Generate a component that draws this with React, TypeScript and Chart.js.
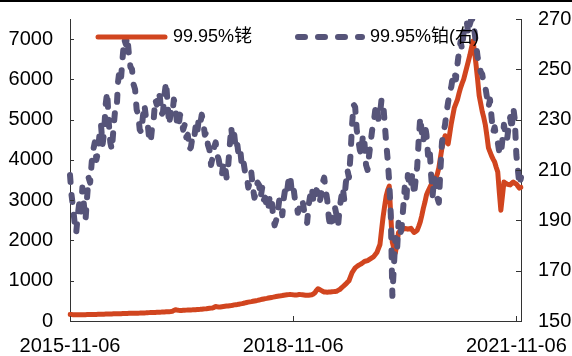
import React, { useEffect, useRef } from 'react';
import { Chart, registerables } from 'chart.js';

Chart.register(...registerables);

// Weekly-ish sampling dates (category axis)
const dates: string[] = [
  '2015-11-06','2015-11-13','2015-11-21','2015-11-28','2015-12-06','2015-12-13','2015-12-21','2015-12-28',
  '2016-01-06','2016-01-13','2016-01-21','2016-01-28','2016-02-06','2016-02-13','2016-02-21','2016-02-28',
  '2016-03-06','2016-03-13','2016-03-21','2016-03-28','2016-04-06','2016-04-13','2016-04-21','2016-04-28',
  '2016-05-06','2016-05-13','2016-05-21','2016-05-28','2016-06-06','2016-06-13','2016-06-21','2016-06-28',
  '2016-07-06','2016-07-13','2016-07-21','2016-07-28','2016-08-06','2016-08-13','2016-08-21','2016-08-28',
  '2016-09-06','2016-09-13','2016-09-21','2016-09-28','2016-10-06','2016-10-13','2016-10-21','2016-10-28',
  '2016-11-06','2016-11-13','2016-11-21','2016-11-28','2016-12-06','2016-12-13','2016-12-21','2016-12-28',
  '2017-01-06','2017-01-13','2017-01-21','2017-01-28','2017-02-06','2017-02-13','2017-02-21','2017-02-28',
  '2017-03-06','2017-03-13','2017-03-21','2017-03-28','2017-04-06','2017-04-13','2017-04-21','2017-04-28',
  '2017-05-06','2017-05-13','2017-05-21','2017-05-28','2017-06-06','2017-06-13','2017-06-21','2017-06-28',
  '2017-07-06','2017-07-13','2017-07-21','2017-07-28','2017-08-06','2017-08-13','2017-08-21','2017-08-28',
  '2017-09-06','2017-09-13','2017-09-21','2017-09-28','2017-10-06','2017-10-13','2017-10-21','2017-10-28',
  '2017-11-06','2017-11-13','2017-11-21','2017-11-28','2017-12-06','2017-12-13','2017-12-21','2017-12-28',
  '2018-01-06','2018-01-13','2018-01-21','2018-01-28','2018-02-06','2018-02-13','2018-02-21','2018-02-28',
  '2018-03-06','2018-03-13','2018-03-21','2018-03-28','2018-04-06','2018-04-13','2018-04-21','2018-04-28',
  '2018-05-06','2018-05-13','2018-05-21','2018-05-28','2018-06-06','2018-06-13','2018-06-21','2018-06-28',
  '2018-07-06','2018-07-13','2018-07-21','2018-07-28','2018-08-06','2018-08-13','2018-08-21','2018-08-28',
  '2018-09-06','2018-09-13','2018-09-21','2018-09-28','2018-10-06','2018-10-13','2018-10-21','2018-10-28',
  '2018-11-06','2018-11-13','2018-11-21','2018-11-28','2018-12-06','2018-12-13','2018-12-21','2018-12-28',
  '2019-01-06','2019-01-13','2019-01-21','2019-01-28','2019-02-06','2019-02-13','2019-02-21','2019-02-28',
  '2019-03-06','2019-03-13','2019-03-21','2019-03-28','2019-04-06','2019-04-13','2019-04-21','2019-04-28',
  '2019-05-06','2019-05-13','2019-05-21','2019-05-28','2019-06-06','2019-06-13','2019-06-21','2019-06-28',
  '2019-07-06','2019-07-13','2019-07-21','2019-07-28','2019-08-06','2019-08-13','2019-08-21','2019-08-28',
  '2019-09-06','2019-09-13','2019-09-21','2019-09-28','2019-10-06','2019-10-13','2019-10-21','2019-10-28',
  '2019-11-06','2019-11-13','2019-11-21','2019-11-28','2019-12-06','2019-12-13','2019-12-21','2019-12-28',
  '2020-01-06','2020-01-13','2020-01-21','2020-01-28','2020-02-06','2020-02-13','2020-02-21','2020-02-28',
  '2020-03-06','2020-03-13','2020-03-21','2020-03-28','2020-04-06','2020-04-13','2020-04-21','2020-04-28',
  '2020-05-06','2020-05-13','2020-05-21','2020-05-28','2020-06-06','2020-06-13','2020-06-21','2020-06-28',
  '2020-07-06','2020-07-13','2020-07-21','2020-07-28','2020-08-06','2020-08-13','2020-08-21','2020-08-28',
  '2020-09-06','2020-09-13','2020-09-21','2020-09-28','2020-10-06','2020-10-13','2020-10-21','2020-10-28',
  '2020-11-06','2020-11-13','2020-11-21','2020-11-28','2020-12-06','2020-12-13','2020-12-21','2020-12-28',
  '2021-01-06','2021-01-13','2021-01-21','2021-01-28','2021-02-06','2021-02-13','2021-02-21','2021-02-28',
  '2021-03-06','2021-03-13','2021-03-21','2021-03-28','2021-04-06','2021-04-13','2021-04-21','2021-04-28',
  '2021-05-06','2021-05-13','2021-05-21','2021-05-28','2021-06-06','2021-06-13','2021-06-21','2021-06-28',
  '2021-07-06','2021-07-13','2021-07-21','2021-07-28','2021-08-06','2021-08-13','2021-08-21','2021-08-28',
  '2021-09-06','2021-09-13','2021-09-21','2021-09-28','2021-10-06','2021-10-13','2021-10-21','2021-10-28',
  '2021-11-06','2021-11-13','2021-11-21','2021-11-28',
];

// 99.95% rhodium (left axis)
const rhodium: number[] = [
  160,159,158,156,155,155,156,157,157,157,158,159,160,161,162,162,163,164,165,166,
  168,169,170,171,172,173,175,176,178,179,180,181,182,183,185,186,188,189,190,190,
  190,191,192,193,195,196,198,199,200,202,205,208,210,211,212,213,215,217,220,222,
  225,226,228,230,232,235,240,262,280,272,265,263,262,265,268,270,272,273,275,277,
  280,282,285,287,290,294,298,301,305,310,315,320,325,340,360,352,345,350,355,360,
  365,370,375,380,385,392,400,405,410,418,425,432,440,450,460,468,475,482,490,498,
  505,512,520,530,540,548,555,562,570,578,585,592,600,608,615,620,625,632,640,645,
  650,655,660,655,650,648,645,652,660,655,650,645,640,640,640,645,650,670,700,760,
  800,780,760,740,720,718,715,718,720,725,730,735,740,760,780,815,850,885,920,960,
  1000,1100,1200,1260,1320,1350,1380,1400,1420,1450,1480,1490,1500,1525,1550,1575,1600,1650,1700,1800,
  1900,2250,2580,2850,3100,3250,3350,2600,1950,1800,1700,1950,2200,2230,2250,2280,2300,2290,2280,2290,
  2300,2250,2200,2220,2250,2350,2460,2620,2800,2950,3130,3220,3300,3380,3450,3500,3550,3650,3800,4050,
  4300,4450,4600,4500,4400,4650,4900,5100,5300,5400,5500,5650,5790,5900,6000,6150,6300,6450,6600,6780,
  6950,6700,6360,6000,5600,5400,5200,5050,4870,4600,4300,4200,4100,4020,3950,3820,3700,3200,2750,3100,
  3450,3420,3400,3390,3380,3420,3450,3420,3400,3350,3300,3320,
];

// 99.95% platinum (right axis)
const platinum: number[] = [
  208,200,195,189,185,192,197,193,203,196,190,199,207,205,213,218,221,214,217,224,
  228,220,225,236,241,229,221,218,226,233,233,245,250,247,255,262,260,263,256,251,
  250,244,242,234,232,226,225,231,236,231,229,223,221,227,230,238,236,241,239,232,
  233,240,245,236,228,233,232,238,235,229,227,232,230,226,228,223,224,218,219,223,
  222,227,224,230,228,232,229,224,225,220,218,212,215,219,221,216,214,210,208,213,
  212,207,211,219,227,221,224,218,220,215,217,211,213,209,208,203,205,209,203,199,
  201,205,204,199,203,198,199,194,195,200,199,192,188,190,193,198,197,192,199,203,
  201,206,208,202,204,199,197,193,195,198,198,194,192,189,196,200,203,198,197,202,
  201,197,200,205,207,202,198,191,187,191,190,195,192,188,195,199,203,198,205,210,
  207,216,228,236,235,226,222,218,216,224,221,212,210,216,221,226,229,234,236,230,
  232,238,237,229,221,214,205,192,160,172,183,178,189,184,187,195,203,198,208,203,
  204,209,200,206,211,222,231,225,221,228,224,216,219,208,200,207,205,199,197,210,
  221,225,228,233,237,241,243,247,249,246,252,257,261,258,265,268,269,264,268,270,
  270,265,260,255,252,249,248,244,243,239,235,238,231,225,227,223,221,217,216,222,
  228,224,222,227,231,226,235,230,216,210,204,207,
];

const xTickLabels: string[] = ['2015-11-06', '2018-11-06', '2021-11-06'];
const leftTicks: number[] = [0, 1000, 2000, 3000, 4000, 5000, 6000, 7000];
const rightTicks: number[] = [150, 170, 190, 210, 230, 250, 270];
const seriesNames: string[] = ['99.95%铑', '99.95%铂(右)'];

const RED = '#D1451F';
const BLUE = '#565479';
const AXIS = '#333333';
const FONT = '"Liberation Sans", Arial, "Noto Sans CJK SC", sans-serif';

const decorPlugin = {
  id: 'decor',
  afterDraw(chart: any) {
    const ctx = chart.ctx as CanvasRenderingContext2D;
    const { left, right, top, bottom } = chart.chartArea;
    const yl = chart.scales.y;
    const yr = chart.scales.y1;
    const xs = chart.scales.x;
    ctx.save();
    ctx.strokeStyle = AXIS;
    ctx.lineWidth = 1;
    ctx.beginPath();
    yl.ticks.forEach((t: any) => {
      const py = Math.round(yl.getPixelForValue(t.value)) + 0.5;
      ctx.moveTo(left, py);
      ctx.lineTo(left + 4, py);
    });
    yr.ticks.forEach((t: any) => {
      const py = Math.round(yr.getPixelForValue(t.value)) + 0.5;
      ctx.moveTo(right, py);
      ctx.lineTo(right - 5, py);
    });
    xs.ticks.forEach((_t: any, i: number) => {
      const px = Math.round(xs.getPixelForTick(i)) + 0.5;
      ctx.moveTo(px, bottom);
      ctx.lineTo(px, bottom - 5);
    });
    ctx.stroke();

    // legend
    const ly = top + 18;
    ctx.lineCap = 'round';
    ctx.strokeStyle = RED;
    ctx.lineWidth = 5;
    ctx.setLineDash([]);
    ctx.beginPath();
    ctx.moveTo(left + 28, ly);
    ctx.lineTo(left + 95, ly);
    ctx.stroke();

    ctx.strokeStyle = BLUE;
    ctx.lineWidth = 6;
    ctx.setLineDash([7, 13]);
    ctx.beginPath();
    ctx.moveTo(left + 228, ly);
    ctx.lineTo(left + 292, ly);
    ctx.stroke();
    ctx.setLineDash([]);

    ctx.fillStyle = '#000';
    ctx.font = '18px ' + FONT;
    ctx.textBaseline = 'middle';
    ctx.textAlign = 'left';
    ctx.fillText(seriesNames[0], left + 103, ly);
    ctx.fillText(seriesNames[1], left + 300, ly);

    ctx.fillStyle = '#000';
    ctx.fillRect(0, 0, chart.width, 2);
    ctx.restore();
  },
};

export default function App() {
  const canvasRef = useRef<HTMLCanvasElement | null>(null);

  useEffect(() => {
    if (!canvasRef.current) return;
    const chart = new Chart(canvasRef.current, {
      type: 'line',
      data: {
        labels: dates,
        datasets: [
          {
            label: seriesNames[0],
            data: rhodium,
            yAxisID: 'y',
            borderColor: RED,
            backgroundColor: RED,
            borderWidth: 5,
            pointRadius: 0,
            tension: 0,
            borderCapStyle: 'round',
            borderJoinStyle: 'round',
            order: 2,
          },
          {
            label: seriesNames[1],
            data: platinum,
            yAxisID: 'y1',
            borderColor: BLUE,
            backgroundColor: BLUE,
            borderWidth: 6,
            borderDash: [7, 13],
            pointRadius: 0,
            tension: 0,
            borderCapStyle: 'round',
            borderJoinStyle: 'round',
            order: 1,
          },
        ],
      },
      options: {
        responsive: false,
        animation: false,
        devicePixelRatio: 1,
        layout: { padding: { top: 19, left: 0, right: 0, bottom: 0 } },
        plugins: {
          legend: { display: false },
          tooltip: { enabled: false },
        },
        scales: {
          x: {
            type: 'category',
            grid: { display: false, drawTicks: false },
            border: { display: true, color: AXIS, width: 1 },
            ticks: {
              autoSkip: false,
              maxRotation: 0,
              minRotation: 0,
              padding: 13,
              color: '#000',
              font: { size: 20, family: FONT },
            },
            afterBuildTicks: (scale: any) => {
              scale.ticks = scale.ticks.filter((t: any) => xTickLabels.includes(dates[t.value]));
            },
            afterFit: (scale: any) => {
              scale.height = 35;
              scale.paddingLeft = 0;
              scale.paddingRight = 0;
            },
          },
          y: {
            type: 'linear',
            position: 'left',
            min: 0,
            max: 7500,
            grid: { display: false, drawTicks: false },
            border: { display: true, color: AXIS, width: 1 },
            ticks: {
              padding: 17,
              color: '#000',
              font: { size: 20, family: FONT },
              callback: (v: any) => String(v),
            },
            afterBuildTicks: (scale: any) => {
              scale.ticks = leftTicks.map((v) => ({ value: v }));
            },
            afterFit: (scale: any) => {
              scale.width = 70;
              scale.paddingTop = 0;
              scale.paddingBottom = 0;
            },
          },
          y1: {
            type: 'linear',
            position: 'right',
            min: 150,
            max: 270,
            grid: { display: false, drawTicks: false },
            border: { display: true, color: AXIS, width: 1 },
            ticks: {
              padding: 17,
              color: '#000',
              font: { size: 20, family: FONT },
              callback: (v: any) => String(v),
            },
            afterBuildTicks: (scale: any) => {
              scale.ticks = rightTicks.map((v) => ({ value: v }));
            },
            afterFit: (scale: any) => {
              scale.width = 51;
              scale.paddingTop = 0;
              scale.paddingBottom = 0;
            },
          },
        },
      },
      plugins: [decorPlugin],
    } as any);
    return () => chart.destroy();
  }, []);

  return (
    <div style={{ position: 'absolute', left: 0, top: 0, width: 572, height: 356, background: '#fff' }}>
      <canvas ref={canvasRef} width={572} height={356} />
    </div>
  );
}
